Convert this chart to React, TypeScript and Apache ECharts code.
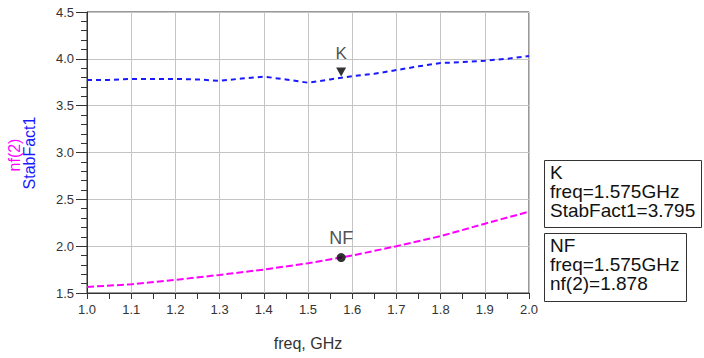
import React, { useEffect, useRef } from "react";
import * as echarts from "echarts";

// StabFact1 (blue) sampled every 0.05 GHz
const freqStab = [1.0, 1.05, 1.1, 1.15, 1.2, 1.25, 1.3, 1.35, 1.4, 1.45, 1.5, 1.55, 1.6, 1.65, 1.7, 1.75, 1.8, 1.85, 1.9, 1.95, 2.0];
const stabFact1 = [3.775, 3.775, 3.785, 3.785, 3.785, 3.78, 3.765, 3.79, 3.81, 3.78, 3.745, 3.78, 3.815, 3.84, 3.88, 3.92, 3.955, 3.965, 3.98, 4.0, 4.03];

// nf(2) (magenta) sampled every 0.1 GHz
const freqNf = [1.0, 1.1, 1.2, 1.3, 1.4, 1.5, 1.6, 1.7, 1.8, 1.9, 2.0];
const nf2 = [1.565, 1.593, 1.64, 1.693, 1.75, 1.818, 1.9, 2.0, 2.107, 2.24, 2.368];

// markers
const markerFreq = 1.575;
const markerK = 3.795;
const markerNF = 1.878;

// axes
const xMin = 1.0, xMax = 2.0, xStep = 0.1;
const yMin = 1.5, yMax = 4.5, yStep = 0.5;

const FONT = "'Liberation Sans', Arial, sans-serif";

export default function App() {
  const ref = useRef<HTMLDivElement>(null);
  useEffect(() => {
    if (!ref.current) return;
    const chart = echarts.init(ref.current, undefined, { renderer: "svg" });
    const axisColor = "#333";
    chart.setOption({
      animation: false,
      textStyle: { fontFamily: FONT },
      grid: { left: 87, right: 175, top: 12, bottom: 65, show: true, borderColor: axisColor, borderWidth: 1, containLabel: false },
      xAxis: {
        type: "value", min: xMin, max: xMax, interval: xStep,
        axisLine: { show: true, onZero: false, lineStyle: { color: axisColor, width: 1 } },
        axisTick: { show: true, length: 6, lineStyle: { color: axisColor } },
        minorTick: { show: true, splitNumber: 2, length: 6, lineStyle: { color: axisColor } },
        splitLine: { show: true, lineStyle: { color: "#c4c4c4", width: 1 } },
        axisLabel: { fontSize: 13, color: "#333", margin: 10, fontFamily: FONT, formatter: (v: number) => v.toFixed(1) },
      },
      yAxis: {
        type: "value", min: yMin, max: yMax, interval: yStep,
        axisLine: { show: true, onZero: false, lineStyle: { color: axisColor, width: 1 } },
        axisTick: { show: true, length: 11, lineStyle: { color: axisColor } },
        minorTick: { show: true, splitNumber: 5, length: 6, lineStyle: { color: axisColor } },
        splitLine: { show: true, lineStyle: { color: "#c4c4c4", width: 1 } },
        axisLabel: { fontSize: 13, color: "#333", margin: 13, fontFamily: FONT, formatter: (v: number) => v.toFixed(1) },
      },
      series: [
        {
          type: "line",
          data: freqStab.map((f, i) => [f, stabFact1[i]]),
          showSymbol: false,
          lineStyle: { color: "#1a1aff", width: 2, type: [5, 4] },
          z: 3,
        },
        {
          type: "line",
          data: freqNf.map((f, i) => [f, nf2[i]]),
          showSymbol: false,
          lineStyle: { color: "#ff00ff", width: 2, type: [7, 3] },
          z: 3,
        },
        {
          type: "scatter",
          data: [[markerFreq, markerK]],
          symbol: "triangle",
          symbolRotate: 180,
          symbolSize: [10, 9],
          symbolOffset: [0, -6],
          itemStyle: { color: "#000" },
          label: { show: true, position: "top", distance: 6, formatter: "K", fontSize: 17, color: "#222", fontFamily: FONT },
          z: 5,
        },
        {
          type: "scatter",
          data: [[markerFreq, markerNF]],
          symbol: "circle",
          symbolSize: 9,
          itemStyle: { color: "#000" },
          label: { show: true, position: "top", distance: 6, formatter: "NF", fontSize: 18, color: "#222", fontFamily: FONT },
          z: 5,
        },
      ],
      graphic: [
        { type: "text", x: 14, y: 155, rotation: Math.PI / 2, style: { text: "nf(2)", fill: "#ff00ff", font: `16px ${FONT}`, align: "center", verticalAlign: "middle" } },
        { type: "text", x: 29, y: 153, rotation: Math.PI / 2, style: { text: "StabFact1", fill: "#1a1aff", font: `16px ${FONT}`, align: "center", verticalAlign: "middle" } },
        { type: "text", x: 308, y: 343, style: { text: "freq, GHz", fill: "#333", font: `16px ${FONT}`, align: "center", verticalAlign: "middle" } },
        { type: "rect", shape: { x: 544.5, y: 160.5, width: 157, height: 67 }, style: { fill: "#fff", stroke: "#333", lineWidth: 1 } },
        { type: "text", x: 550, y: 162.5, style: { text: `K\nfreq=${markerFreq}GHz\nStabFact1=${markerK}`, fill: "#111", font: `19px ${FONT}`, lineHeight: 19, align: "left", verticalAlign: "top" } },
        { type: "rect", shape: { x: 544.5, y: 233.5, width: 142, height: 68 }, style: { fill: "#fff", stroke: "#333", lineWidth: 1 } },
        { type: "text", x: 550, y: 236, style: { text: `NF\nfreq=${markerFreq}GHz\nnf(2)=${markerNF}`, fill: "#111", font: `19px ${FONT}`, lineHeight: 19, align: "left", verticalAlign: "top" } },
      ],
    });
    return () => chart.dispose();
  }, []);
  return <div ref={ref} style={{ position: "fixed", left: 0, top: 0, width: 704, height: 358, background: "#fff" }} />;
}
